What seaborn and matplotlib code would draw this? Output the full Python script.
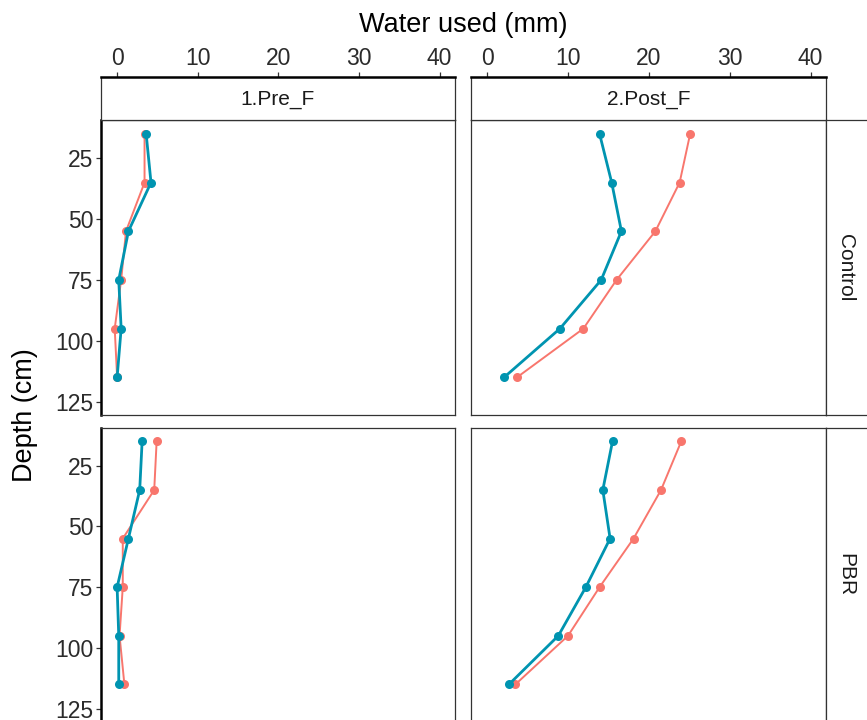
import matplotlib
matplotlib.use("Agg")
import matplotlib.pyplot as plt
import seaborn as sns
import pandas as pd

# ---------------- data ----------------
depth = [15, 35, 55, 75, 95, 115]
periods = ["1.Pre_F", "2.Post_F"]
treatments = ["Control", "PBR"]
series = ["S1", "S2"]
series_colors = {"S1": "#F8766D", "S2": "#0094B0"}

ctrl_pre_s1 = [3.4, 3.4, 1.1, 0.5, -0.3, 0.0]
ctrl_pre_s2 = [3.6, 4.2, 1.4, 0.2, 0.5, 0.0]
ctrl_post_s1 = [25.1, 23.8, 20.8, 16.0, 11.9, 3.7]
ctrl_post_s2 = [13.9, 15.4, 16.6, 14.1, 9.0, 2.1]
pbr_pre_s1 = [4.9, 4.6, 0.7, 0.7, 0.3, 0.9]
pbr_pre_s2 = [3.1, 2.8, 1.4, 0.0, 0.2, 0.2]
pbr_post_s1 = [24.0, 21.5, 18.1, 13.9, 10.0, 3.5]
pbr_post_s2 = [15.5, 14.3, 15.2, 12.2, 8.8, 2.7]

x_ticks = [0, 10, 20, 30, 40]
y_ticks = [25, 50, 75, 100, 125]

values = {
    ("Control", "1.Pre_F", "S1"): ctrl_pre_s1,
    ("Control", "1.Pre_F", "S2"): ctrl_pre_s2,
    ("Control", "2.Post_F", "S1"): ctrl_post_s1,
    ("Control", "2.Post_F", "S2"): ctrl_post_s2,
    ("PBR", "1.Pre_F", "S1"): pbr_pre_s1,
    ("PBR", "1.Pre_F", "S2"): pbr_pre_s2,
    ("PBR", "2.Post_F", "S1"): pbr_post_s1,
    ("PBR", "2.Post_F", "S2"): pbr_post_s2,
}
rows = []
for (tr, pe, se), vals in values.items():
    for d, v in zip(depth, vals):
        rows.append({"Treatment": tr, "Period": pe, "Series": se, "Depth": d, "Water": v})
df = pd.DataFrame(rows)

# ---------------- style ----------------
sns.set_theme(style="white")
plt.rcParams["font.family"] = ["Liberation Sans", "DejaVu Sans"]

W, H = 867, 720
fig = plt.figure(figsize=(W / 100, H / 100), dpi=100)


def rect(l, t, r, b):
    return [l / W, 1 - b / H, (r - l) / W, (b - t) / H]


col_x = [(101, 455), (471, 826)]
row_y = [(120, 415), (427.5, 722)]
XLIM = (-2.0, 41.9)
YLIM = (130.5, 9.3)
THIN = "#333333"
tick_kw = dict(labelsize=16.5, labelcolor="#2B2B2B", colors="#333333", length=3.5, width=0.9)
lw = {"S1": 1.4, "S2": 2.0}

for i, tr in enumerate(treatments):
    for j, pe in enumerate(periods):
        l, r = col_x[j]
        t, b = row_y[i]
        ax = fig.add_axes(rect(l, t, r, b))
        sub = df[(df.Treatment == tr) & (df.Period == pe)]
        for se in series:
            sns.lineplot(data=sub[sub.Series == se], x="Water", y="Depth", orient="y",
                         sort=True, color=series_colors[se], linewidth=lw[se],
                         marker="o", markersize=6.5, markeredgewidth=0,
                         legend=False, ax=ax)
        ax.set_xlim(*XLIM)
        ax.set_ylim(*YLIM)
        ax.set_xlabel("")
        ax.set_ylabel("")
        ax.set_facecolor("white")
        ax.set_xticks([])
        for s in ax.spines.values():
            s.set_color(THIN)
            s.set_linewidth(0.9)
            s.set_visible(True)
        if j == 0:
            ax.set_yticks(y_ticks)
            ax.tick_params(axis="y", which="both", left=True, direction="out", pad=2, **tick_kw)
            ax.spines["left"].set_color("black")
            ax.spines["left"].set_linewidth(1.8)
        else:
            ax.set_yticks([])

        # column strips carrying the top x axis
        if i == 0:
            sax = fig.add_axes(rect(l, 77, r, 120))
            sax.set_xlim(*XLIM)
            sax.set_ylim(0, 1)
            sax.set_facecolor("white")
            sax.set_yticks([])
            sax.set_xticks(x_ticks)
            sax.xaxis.tick_top()
            sax.tick_params(axis="x", which="both", top=True, bottom=False, direction="out", pad=1.5, **tick_kw)
            for s in sax.spines.values():
                s.set_color(THIN)
                s.set_linewidth(0.9)
                s.set_visible(True)
            sax.spines["top"].set_color("black")
            sax.spines["top"].set_linewidth(1.8)
            sax.text(0.5, 0.47, pe, transform=sax.transAxes, ha="center", va="center",
                     fontsize=15, color="#1A1A1A")

        # row strips on the right
        if j == 1:
            rax = fig.add_axes(rect(826, t, 869, b))
            rax.set_xticks([])
            rax.set_yticks([])
            rax.set_facecolor("white")
            for s in rax.spines.values():
                s.set_color(THIN)
                s.set_linewidth(0.9)
                s.set_visible(True)
            rax.text(0.45, 0.5, tr, transform=rax.transAxes, ha="center", va="center",
                     rotation=-90, fontsize=15, color="#1A1A1A")

fig.text(463 / W, 1 - 25 / H, "Water used (mm)", ha="center", va="center",
         fontsize=19.5, color="black")
fig.text(25 / W, 1 - 415 / H, "Depth (cm)", ha="center", va="center",
         rotation=90, fontsize=19.5, color="black")

fig.savefig("out.png", dpi=100)
